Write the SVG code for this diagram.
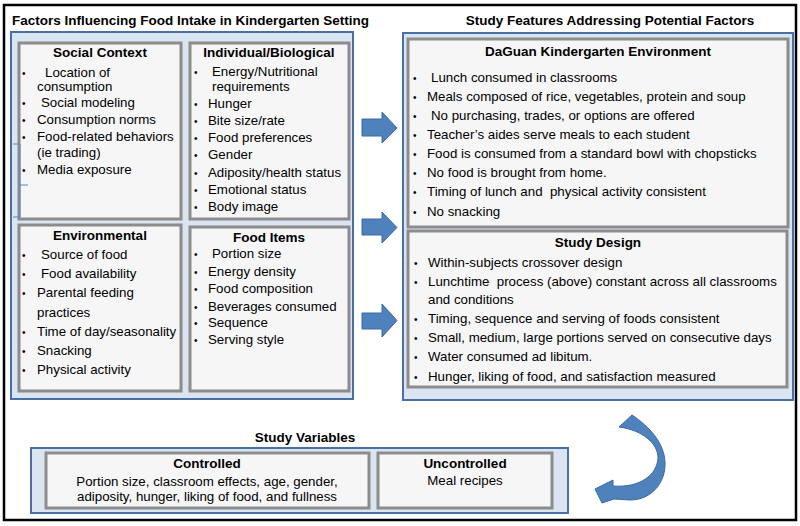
<svg xmlns="http://www.w3.org/2000/svg" width="800" height="526" viewBox="0 0 800 526">
<style>
.frame{fill:#ffffff;stroke:#000;stroke-width:2.5}
.panel{fill:#dbe5f1;stroke:#4a6fa5;stroke-width:2}
.box{fill:#f6f6f6;stroke:#8c8c8c;stroke-width:3}
.h{font-family:"Liberation Sans",Arial,sans-serif;font-weight:bold;font-size:13.5px;fill:#000;text-anchor:middle}
.t{font-family:"Liberation Sans",Arial,sans-serif;font-size:13.3px;fill:#000}
.c{text-anchor:middle}
.bl{font-family:"Liberation Sans",Arial,sans-serif;font-size:10px;fill:#000}
.arrow{fill:#4f81bd;stroke:#3d6aa0;stroke-width:1}
.brk{fill:none;stroke:#5b86c5;stroke-width:1}
</style>
<rect class="frame" x="4" y="5" width="792" height="515"/>

<g id="left-panel">
<text class="h" x="12" y="25" style="text-anchor:start">Factors Influencing Food Intake in Kindergarten Setting</text>
<rect class="panel" x="11" y="32" width="342" height="367"/>
</g>

<g id="social-context">
<rect class="box" x="19" y="43" width="162" height="176"/>
<text class="h" x="100" y="57">Social Context</text>
<g class="bl"><text x="22" y="77">•</text><text x="22" y="107">•</text><text x="22" y="124">•</text><text x="22" y="141">•</text><text x="22" y="174">•</text></g>
<g class="t">
<text x="45" y="77">Location of</text>
<text x="37" y="91">consumption</text>
<text x="41" y="107">Social modeling</text>
<text x="37" y="124">Consumption norms</text>
<text x="37" y="141">Food-related behaviors</text>
<text x="37" y="157">(ie trading)</text>
<text x="37" y="174">Media exposure</text>
</g>
<path class="brk" d="M13,144 H20 V217 H13 M20,185 H28"/>
</g>

<g id="individual-biological">
<rect class="box" x="190" y="43" width="159" height="176"/>
<text class="h" x="269" y="57">Individual/Biological</text>
<g class="bl"><text x="194" y="76">•</text><text x="194" y="108">•</text><text x="194" y="125">•</text><text x="194" y="142">•</text><text x="194" y="159">•</text><text x="194" y="177">•</text><text x="194" y="194">•</text><text x="194" y="211">•</text></g>
<g class="t">
<text x="212" y="76">Energy/Nutritional</text>
<text x="212" y="91">requirements</text>
<text x="208" y="108">Hunger</text>
<text x="208" y="125">Bite size/rate</text>
<text x="208" y="142">Food preferences</text>
<text x="208" y="159">Gender</text>
<text x="208" y="177">Adiposity/health status</text>
<text x="208" y="194">Emotional status</text>
<text x="208" y="211">Body image</text>
</g>
</g>

<g id="environmental">
<rect class="box" x="19" y="225" width="162" height="166"/>
<text class="h" x="100" y="240">Environmental</text>
<g class="bl"><text x="22" y="259">•</text><text x="22" y="278">•</text><text x="22" y="297">•</text><text x="22" y="336">•</text><text x="22" y="355">•</text><text x="22" y="374">•</text></g>
<g class="t">
<text x="41" y="259">Source of food</text>
<text x="41" y="278">Food availability</text>
<text x="37" y="297">Parental feeding</text>
<text x="37" y="317">practices</text>
<text x="37" y="336">Time of day/seasonality</text>
<text x="37" y="355">Snacking</text>
<text x="37" y="374">Physical activity</text>
</g>
</g>

<g id="food-items">
<rect class="box" x="190" y="227" width="159" height="164"/>
<text class="h" x="269" y="242">Food Items</text>
<g class="bl"><text x="194" y="258">•</text><text x="194" y="276">•</text><text x="194" y="293">•</text><text x="194" y="311">•</text><text x="194" y="327">•</text><text x="194" y="344">•</text></g>
<g class="t">
<text x="212" y="258">Portion size</text>
<text x="208" y="276">Energy density</text>
<text x="208" y="293">Food composition</text>
<text x="208" y="311">Beverages consumed</text>
<text x="208" y="327">Sequence</text>
<text x="208" y="344">Serving style</text>
</g>
</g>

<g id="right-panel">
<text class="h" x="610" y="25">Study Features Addressing Potential Factors</text>
<rect class="panel" x="403" y="33" width="390" height="367"/>
</g>

<g id="daguan-environment">
<rect class="box" x="408" y="39" width="380" height="188"/>
<text class="h" x="598" y="56">DaGuan Kindergarten Environment</text>
<g class="bl"><text x="413" y="82">•</text><text x="413" y="101">•</text><text x="413" y="120">•</text><text x="413" y="139">•</text><text x="413" y="158">•</text><text x="413" y="177">•</text><text x="413" y="196">•</text><text x="413" y="216">•</text></g>
<g class="t">
<text x="431" y="82">Lunch consumed in classrooms</text>
<text x="427" y="101">Meals composed of rice, vegetables, protein and soup</text>
<text x="431" y="120">No purchasing, trades, or options are offered</text>
<text x="427" y="139">Teacher’s aides serve meals to each student</text>
<text x="427" y="158">Food is consumed from a standard bowl with chopsticks</text>
<text x="427" y="177">No food is brought from home.</text>
<text x="427" y="196" xml:space="preserve">Timing of lunch and  physical activity consistent</text>
<text x="427" y="216">No snacking</text>
</g>
</g>

<g id="study-design">
<rect class="box" x="408" y="231" width="379" height="156"/>
<text class="h" x="598" y="247">Study Design</text>
<g class="bl"><text x="414" y="267">•</text><text x="414" y="286">•</text><text x="414" y="323">•</text><text x="414" y="342">•</text><text x="414" y="361">•</text><text x="414" y="381">•</text></g>
<g class="t">
<text x="428" y="267">Within-subjects crossover design</text>
<text x="428" y="286" xml:space="preserve">Lunchtime  process (above) constant across all classrooms</text>
<text x="428" y="304">and conditions</text>
<text x="428" y="323">Timing, sequence and serving of foods consistent</text>
<text x="428" y="342">Small, medium, large portions served on consecutive days</text>
<text x="428" y="361">Water consumed ad libitum.</text>
<text x="428" y="381">Hunger, liking of food, and satisfaction measured</text>
</g>
</g>

<g id="study-variables">
<text class="h" x="305" y="442">Study Variables</text>
<rect class="panel" x="31" y="448" width="537" height="65"/>
</g>

<g id="controlled">
<rect class="box" x="46" y="453" width="323" height="55"/>
<text class="h" x="207" y="468">Controlled</text>
<text class="t c" x="207" y="486">Portion size, classroom effects, age, gender,</text>
<text class="t c" x="207" y="501">adiposity, hunger, liking of food, and fullness</text>
</g>

<g id="uncontrolled">
<rect class="box" x="378" y="453" width="174" height="55"/>
<text class="h" x="465" y="468">Uncontrolled</text>
<text class="t c" x="465" y="485">Meal recipes</text>
</g>

<g id="connectors">
<polygon class="arrow" points="362,119 382,119 382,112 397,128 382,143 382,136 362,136"/>
<polygon class="arrow" points="362,219 382,219 382,212 397,227.5 382,243 382,235 362,235"/>
<polygon class="arrow" points="362,313 382,313 382,304 397,320.5 382,337 382,329 362,329"/>
<path class="arrow" d="M632,415 C650,427 664,443 665,462 C666,482 652,500 630,500 L614,499 L602,503 L595,489 L613,480 L613,486 C640,488 657,475 658,458 C658,443 642,430 619,427 Z"/>
</g>
</svg>
